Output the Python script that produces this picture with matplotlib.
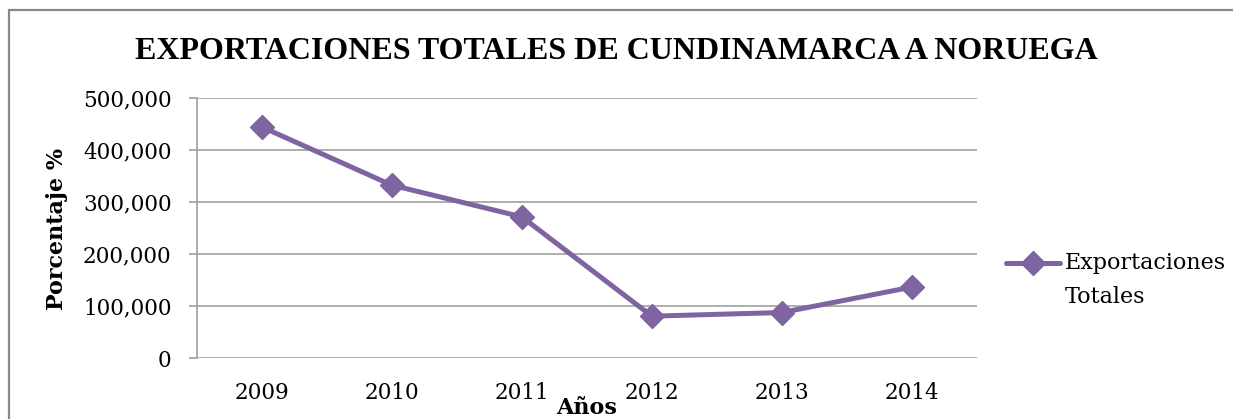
import matplotlib
matplotlib.use("Agg")
import matplotlib.pyplot as plt
from matplotlib.lines import Line2D
from matplotlib.patches import Rectangle

# --- DATOS ---
anios = ["2009", "2010", "2011", "2012", "2013", "2014"]
exportaciones = [445000, 333000, 272000, 81000, 88000, 137000]
etiquetas_y = ["0", "100,000", "200,000", "300,000", "400,000", "500,000"]
valores_y = [0, 100000, 200000, 300000, 400000, 500000]

MORADO = "#8064A2"
GRIS = "#A0A0A0"
FUENTE = "DejaVu Serif"

fig = plt.figure(figsize=(12.33, 4.19), dpi=100)
ax = fig.add_axes([0.1595, 0.1449, 0.6329, 0.6205])

x = list(range(len(anios)))
ax.plot(x, exportaciones, color=MORADO, linewidth=3.6, marker="D", markersize=12,
        markeredgecolor=MORADO, markerfacecolor=MORADO)

ax.set_xlim(-0.5, len(anios) - 0.5)
ax.set_ylim(0, 500000)
ax.set_xticks(x)
ax.set_xticklabels(anios, family=FUENTE, fontsize=15.5)
ax.set_yticks(valores_y)
ax.set_yticklabels(etiquetas_y, family=FUENTE, fontsize=15.5)
ax.tick_params(axis="x", length=0, pad=17)
ax.tick_params(axis="y", length=6, width=1.2, color=GRIS, pad=12)

for s in ["top", "right", "bottom"]:
    ax.spines[s].set_visible(False)
ax.spines["left"].set_color(GRIS)
ax.spines["left"].set_linewidth(1.2)
ax.yaxis.grid(True, color=GRIS, linewidth=1.2)
ax.set_axisbelow(True)

fig.text(0.5, 0.878, "EXPORTACIONES TOTALES DE CUNDINAMARCA A NORUEGA",
         ha="center", va="center", family="Liberation Serif", fontweight="bold", fontsize=23)
fig.text(0.046, 0.453, "Porcentaje %", rotation=90, ha="center", va="center",
         family=FUENTE, fontweight="bold", fontsize=16)
fig.text(0.476, 0.027, "Años", ha="center", va="center",
         family=FUENTE, fontweight="bold", fontsize=16)

# leyenda (manual: la línea va alineada con el primer renglón)
fig.add_artist(Line2D([0.8155, 0.8595], [0.372, 0.372], transform=fig.transFigure,
                      color=MORADO, linewidth=3.6, solid_capstyle="round"))
fig.add_artist(Line2D([0.8375], [0.372], transform=fig.transFigure, color=MORADO,
                      marker="D", markersize=12, linestyle="none"))
fig.text(0.8635, 0.372, "Exportaciones", ha="left", va="center", family=FUENTE, fontsize=16)
fig.text(0.8635, 0.291, "Totales", ha="left", va="center", family=FUENTE, fontsize=16)

# borde exterior
fig.patches.append(Rectangle((0.0069, -0.1), 1.05, 1.077, transform=fig.transFigure,
                             fill=False, edgecolor="#888888", linewidth=1.6))

fig.savefig("out.png", dpi=100)
